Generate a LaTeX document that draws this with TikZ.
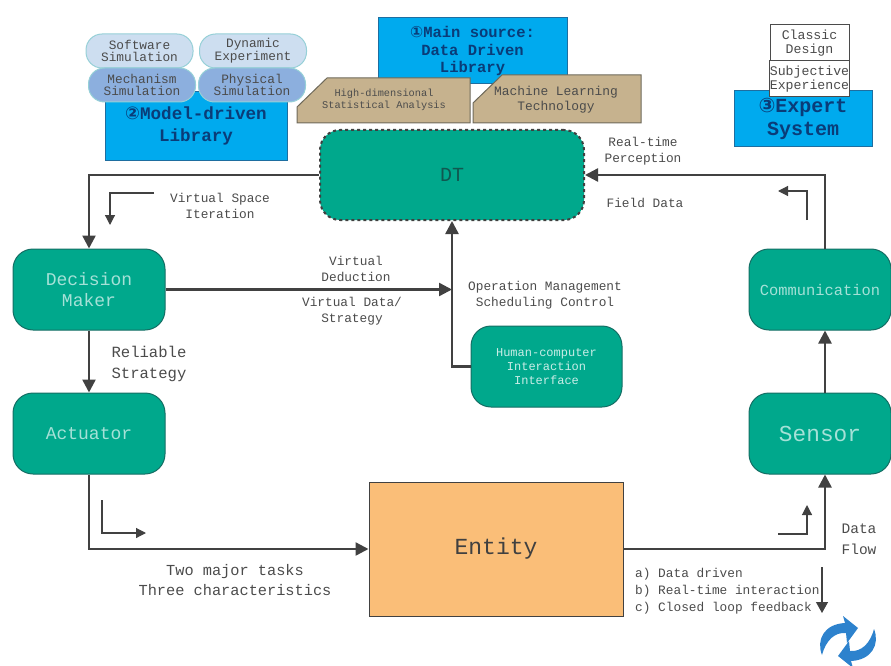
\documentclass[tikz,border=0pt]{standalone}
\usepackage{fontspec}
\setmainfont{Liberation Mono}
\newfontfamily\symfont{DejaVu Sans}
\usetikzlibrary{arrows.meta}
\definecolor{tealfill}{RGB}{0,168,140}
\definecolor{tealedge}{RGB}{20,110,100}
\definecolor{bluefill}{RGB}{0,170,238}
\definecolor{blueedge}{RGB}{30,110,160}
\definecolor{bluetext}{RGB}{10,60,120}
\definecolor{tanfill}{RGB}{198,178,142}
\definecolor{tanedge}{RGB}{110,105,90}
\definecolor{orangefill}{RGB}{250,190,120}
\definecolor{linegray}{RGB}{65,65,65}
\definecolor{textgray}{RGB}{75,75,75}
\definecolor{palepill}{RGB}{205,222,240}
\definecolor{darkpill}{RGB}{140,175,222}
\definecolor{pilledge}{RGB}{150,208,215}
\definecolor{paletext}{RGB}{165,225,215}
\definecolor{iconblue}{RGB}{45,130,205}
\newcommand{\fs}[1]{\fontsize{#1}{#1}\selectfont}
\tikzset{
  flow/.style={draw=linegray,line width=2.4pt,-{Triangle[length=13pt,width=13pt]}},
  tinyflow/.style={draw=linegray,line width=1.2pt,-{Triangle[length=10pt,width=10pt]}},
  tealbox/.style={draw=tealedge,line width=1pt,fill=tealfill,rounded corners=20pt,inner sep=0pt,align=center,text=paletext},
  bluebox/.style={draw=blueedge,line width=1pt,fill=bluefill,inner sep=0pt,align=center,text=bluetext,font=\bfseries},
  pill/.style={draw=pilledge,line width=1pt,rounded corners=16pt,minimum width=107pt,minimum height=34pt,inner sep=0pt,align=center,text=textgray,font=\fs{12.8}},
  whitebox/.style={draw=textgray,line width=1pt,fill=white,minimum width=79pt,minimum height=36pt,inner sep=0pt,align=center,text=textgray,font=\fs{13.2}},
  tanbox/.style={draw=tanedge,line width=1pt,fill=tanfill},
  lbl/.style={inner sep=0pt,align=center,text=textgray,font=\fs{12.8}}
}
\begin{document}
\begin{tikzpicture}[x=1pt,y=-1pt]
  \useasboundingbox (0,0) rectangle (891,666);

  % libraries
  \node[bluebox,minimum width=182pt,minimum height=68pt,font=\bfseries\fs{17.6}] (model) at (196,126) {\raisebox{0pt}{\symfont ②}Model-driven\\[4pt]Library};
  \node[pill,fill=palepill] (soft) at (139.5,51) {Software\\Simulation};
  \node[pill,fill=palepill] (dyn) at (253,51) {Dynamic\\Experiment};
  \node[pill,fill=darkpill] (mech) at (142,85) {Mechanism\\Simulation};
  \node[pill,fill=darkpill] (phys) at (252,85) {Physical\\Simulation};

  \node[bluebox,minimum width=189pt,minimum height=66pt,font=\bfseries\fs{15.5}] (main) at (472.5,51) {{\symfont ①}Main source:\\[2pt]Data Driven\\[2pt]Library};
  \draw[tanbox] (297,123)--(297,107)--(327,78)--(470,78)--(470,123)--cycle;
  \draw[tanbox] (473,123)--(473,103)--(502,75)--(641,75)--(641,123)--cycle;
  \node[lbl,font=\fs{10.3},text=black!70] (stat) at (384,100) {High-dimensional\\[2pt]Statistical Analysis};
  \node[lbl,text=black!70,font=\fs{12.9}] (ml) at (556,100) {Machine Learning\\[2pt]Technology};

  \node[bluebox,minimum width=138pt,minimum height=55pt,font=\bfseries\fs{20}] (expert) at (803,118.5) {{\symfont ③}Expert\\[3pt]System};
  \node[whitebox] (classic) at (809.5,43) {Classic\\Design};
  \node[whitebox] (subj) at (809.5,79) {Subjective\\Experience};

  % main nodes
  \node[tealbox,draw=black!75,dashed,line width=2pt,minimum width=264pt,minimum height=90pt,text=tealedge!80!black,font=\fs{20}] (dt) at (452,175) {DT};
  \node[tealbox,minimum width=152pt,minimum height=81pt,font=\fs{18}] (dm) at (89,289.5) {Decision\\[3pt]Maker};
  \node[tealbox,minimum width=152pt,minimum height=81pt,font=\fs{18}] (act) at (89,433.5) {Actuator};
  \node[tealbox,minimum width=142pt,minimum height=81pt,font=\fs{15.4}] (comm) at (820,289.5) {Communication};
  \node[tealbox,minimum width=142pt,minimum height=81pt,font=\fs{22.8}] (sensor) at (820,433.5) {Sensor};
  \node[tealbox,minimum width=151pt,minimum height=81pt,font=\fs{12},text=paletext!60!white] (hci) at (546.5,366.5) {Human-computer\\[2pt]Interaction\\[2pt]Interface};
  \node[draw=linegray,line width=1pt,fill=orangefill,minimum width=254pt,minimum height=134pt,inner sep=0pt,text=black!75,font=\fs{23}] (entity) at (496,549) {Entity};

  % connectors
  \draw[flow] (dt.west) -| (dm.north);
  \draw[flow] (dm.south) -- (act.north);
  \draw[flow] (act.south) |- (entity.west);
  \draw[flow] (entity.east) -| ([xshift=5pt]sensor.south);
  \draw[flow] ([xshift=5pt]sensor.north) -- ([xshift=5pt]comm.south);
  \draw[flow] ([xshift=5pt]comm.north) |- (dt.east);
  \draw[flow] (dm.east) -- (dm.east -| dt.south);
  \draw[flow] (hci.west) -| (dt.south);

  % small arrows
  \coordinate (a1) at (154,193);
  \coordinate (a2) at (110,225);
  \draw[tinyflow] (a1) -| (a2);
  \coordinate (b1) at (807,220);
  \coordinate (b2) at (778,191);
  \draw[tinyflow] (b1) |- (b2);
  \coordinate (c1) at (102,500);
  \coordinate (c2) at (146,533);
  \draw[tinyflow] (c1) |- (c2);
  \coordinate (d1) at (778,534);
  \coordinate (d2) at (807,505);
  \draw[tinyflow] (d1) -| (d2);
  \coordinate (e1) at (822,567);
  \coordinate (e2) at (822,613);
  \draw[tinyflow,-{Triangle[length=11pt,width=12pt]}] (e1) -- (e2);

  % labels
  \node[lbl] (vsi) at (220,206) {Virtual Space\\[3pt]Iteration};
  \node[lbl] (vd) at (356,269) {Virtual\\[3pt]Deduction};
  \node[lbl] (vds) at (352,311) {Virtual Data/\\[3pt]Strategy};
  \node[lbl] (omsc) at (545,295) {Operation Management\\[3pt]Scheduling Control};
  \node[lbl] (rtp) at (643,151) {Real-time\\[3pt]Perception};
  \node[lbl] (fd) at (645,203) {Field Data};
  \node[lbl,font=\fs{15.6}] (rs) at (149,364) {Reliable\\[5pt]Strategy};
  \node[lbl,font=\fs{15.3}] (two) at (235,580) {Two major tasks\\[5pt]Three characteristics};
  \node[lbl,font=\fs{14.5}] (flowlbl) at (859,539) {Data\\[7pt]Flow};
  \node[lbl,align=left,anchor=west] (abc) at (635,591) {a) Data driven\\[4pt]b) Real-time interaction\\[4pt]c) Closed loop feedback};

  % refresh icon
  \foreach \ang in {0,180}
    \fill[iconblue,rotate around={\ang:(848,642)}] (822,655) .. controls (816,640) and (824,624) .. (845,623)
      -- (843,616) -- (858,628) -- (847,643) -- (846,633) .. controls (835,632) and (826,640) .. cycle;
\end{tikzpicture}
\end{document}
